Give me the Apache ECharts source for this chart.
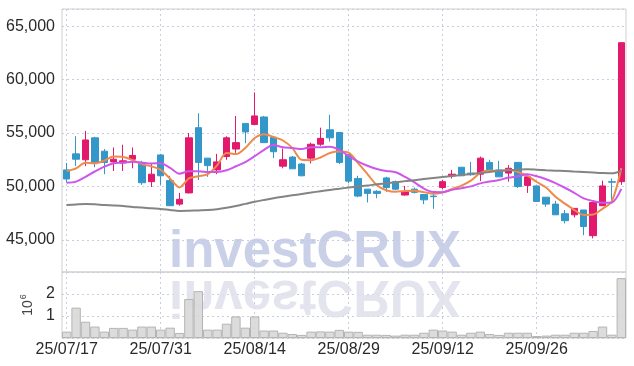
<!DOCTYPE html>
<html><head><meta charset="utf-8">
<script src="https://cdn.jsdelivr.net/npm/echarts@6/dist/echarts.min.js"></script>
<style>html,body{margin:0;padding:0;background:#fff}#c{width:634px;height:366px}</style>
</head><body><div id="c"></div>
<script>
const dates = ['25/07/17','25/07/18','25/07/21','25/07/22','25/07/23','25/07/24','25/07/25','25/07/28','25/07/29','25/07/30',
 '25/07/31','25/08/01','25/08/04','25/08/05','25/08/06','25/08/07','25/08/08','25/08/11','25/08/12','25/08/13',
 '25/08/14','25/08/18','25/08/19','25/08/20','25/08/21','25/08/22','25/08/25','25/08/26','25/08/27','25/08/28',
 '25/08/29','25/09/01','25/09/02','25/09/03','25/09/04','25/09/05','25/09/08','25/09/09','25/09/10','25/09/11',
 '25/09/12','25/09/15','25/09/16','25/09/17','25/09/18','25/09/19','25/09/22','25/09/23','25/09/24','25/09/25',
 '25/09/26','25/09/29','25/09/30','25/10/01','25/10/02','25/10/10','25/10/13','25/10/14','25/10/15','25/10/16'];
const openP  = [51550,53050,52500,54550,53300,52300,52200,52550,52250,50450,52950,50550,48350,49400,55500,52650,51550,52800,53500,55900,
 55800,56500,54600,51900,52750,52100,52650,53950,55300,55050,53000,50750,49750,49550,50800,50450,49200,49750,49250,49100,
 49900,51000,51800,51250,51150,52250,51550,51250,52250,50100,50050,49000,48350,47450,47350,47800,45400,48200,50450,50450];
const closeP = [50700,52550,54350,52250,52250,52550,52400,52900,50350,51150,51000,48200,48800,54550,52250,51950,52300,54550,54100,55100,
 56600,54100,53250,52500,51650,51000,53950,54500,54550,52250,50500,49100,49350,49350,49900,49750,49500,49450,48750,49050,
 50450,51150,51000,51100,52650,51550,50900,51700,50000,50900,48600,48350,47350,46800,47950,46250,48500,50050,50400,63450];
const lowP   = [50350,51900,51900,51800,51150,51450,51450,51700,50150,49950,50150,48200,48200,49350,50600,50900,51150,52500,53150,54050,
 55800,54100,52650,51700,51650,50950,52150,53800,54200,52100,50300,49000,48500,48900,49500,49650,49150,49350,48350,47900,
 49750,50750,51000,51000,50500,51350,50900,50450,49850,49400,48600,48100,47350,46550,47100,45450,45150,48200,48750,50150];
const highP  = [52200,54700,55200,54650,53500,53650,53900,53650,52400,52100,53050,51000,49400,55000,56850,52650,53050,54700,56600,55900,
 58800,56600,54650,53550,52850,52200,54100,55500,56700,55050,53000,51000,49750,49650,50900,50550,50050,49900,49300,49300,
 50600,51550,51800,52300,52800,52500,52400,52000,52300,51150,50050,49000,48650,47800,47950,47800,48550,50550,50750,63450];
const volume = [290000,1380000,740000,520000,290000,460000,460000,380000,520000,520000,380000,470000,230000,1770000,2130000,380000,380000,650000,980000,470000,
 980000,340000,340000,240000,180000,140000,290000,300000,290000,370000,290000,280000,150000,150000,140000,110000,150000,150000,240000,380000,
 340000,290000,150000,240000,290000,180000,140000,240000,240000,240000,90000,110000,150000,150000,240000,240000,320000,520000,150000,2720000];
const ma5  = [51450,51700,52230,52170,52420,52800,52760,52470,52090,51880,51560,50730,49910,50750,50960,51150,51970,53120,53030,53600,
 54530,54890,54630,54300,53610,52490,52460,52710,53130,53260,53160,52190,51160,50120,49650,49500,49580,49600,49470,49310,
 49440,49770,50080,50550,51270,51490,51440,51570,51360,51010,50420,49910,49040,48400,47800,47340,47370,47910,48630,51730];
const ma10 = [50350,50450,50900,51400,51850,52170,52230,52320,52230,52150,52180,51740,51190,51420,51420,51360,51350,51510,51890,52280,
 52840,53430,53870,53660,53600,53510,53680,53670,53720,53430,52830,52330,51940,51630,51450,51330,50890,50380,49800,49480,
 49470,49680,49840,50010,50290,50460,50600,50830,50950,51140,50950,50670,50310,49880,49410,48880,48640,48470,48510,49770];
const maLong = [48270,48320,48360,48330,48270,48230,48180,48090,48040,47960,47900,47800,47710,47730,47760,47790,47870,48000,48170,48370,
 48570,48740,48900,49040,49170,49300,49430,49560,49680,49790,49900,50000,50090,50210,50300,50400,50500,50590,50700,50800,
 50890,50980,51080,51170,51260,51360,51450,51510,51570,51610,51570,51520,51480,51450,51400,51360,51310,51260,51230,51450];

const RED = '#e2196c', BLUE = '#3497c9';
const FONT = '"Liberation Sans Narrow", "Liberation Sans", sans-serif';
const candle = dates.map((d, i) => [openP[i], closeP[i], lowP[i], highP[i]]);
const fmt = v => String(v).replace(/\B(?=(\d{3})+(?!\d))/g, ',');
const dotted = { color: '#c9cde0', type: [2, 3], width: 1 };

const chart = echarts.init(document.getElementById('c'), null, { renderer: 'canvas' });
chart.setOption({
  animation: false,
  backgroundColor: '#fff',
  grid: [
    { left: 62, right: 8, top: 9, height: 263, show: true, borderColor: '#cfcfcf', borderWidth: 1 },
    { left: 62, right: 8, top: 272, height: 66, show: true, borderColor: '#cfcfcf', borderWidth: 1 }
  ],
  xAxis: [
    { type: 'category', gridIndex: 0, data: dates, boundaryGap: true,
      axisLine: { show: false }, axisTick: { show: false }, axisLabel: { show: false },
      splitLine: { show: true, interval: 9, alignWithLabel: true, lineStyle: dotted } },
    { type: 'category', gridIndex: 1, data: dates, boundaryGap: true,
      axisLine: { show: false }, axisTick: { show: false },
      axisLabel: { show: true, interval: 9, margin: 4, fontFamily: FONT, fontSize: 16, color: '#2a2a2a' },
      splitLine: { show: true, interval: 9, alignWithLabel: true, lineStyle: dotted } }
  ],
  yAxis: [
    { type: 'value', gridIndex: 0, min: 42000, max: 66600, splitNumber: 5, scale: true,
      axisLine: { show: false }, axisTick: { show: false },
      axisLabel: { margin: 7, fontFamily: FONT, fontSize: 16, color: '#2a2a2a', formatter: fmt, showMinLabel: false, showMaxLabel: false },
      splitLine: { show: true, lineStyle: dotted } },
    { type: 'value', gridIndex: 1, min: 0, max: 3000000, interval: 1000000,
      axisLine: { show: false }, axisTick: { show: false },
      axisLabel: { margin: 7, fontFamily: FONT, fontSize: 16, color: '#2a2a2a', formatter: v => String(v / 1000000), showMinLabel: false, showMaxLabel: false },
      splitLine: { show: true, lineStyle: dotted },
      name: '{b|10}{s|6}', nameLocation: 'middle', nameGap: 21, nameRotate: 90,
      nameTextStyle: { rich: { b: { fontFamily: 'Liberation Sans', fontSize: 14, color: '#444' },
                               s: { fontFamily: 'Liberation Sans', fontSize: 9, color: '#444', padding: [0, 0, 9, 1] } } } }
  ],
  graphic: [
    { type: 'text', z: 1, silent: true,
      style: { text: 'investCRUX', x: 315, y: 253, fill: 'rgba(192,200,228,0.85)', font: 'bold 51px "Liberation Sans", sans-serif', textAlign: 'center', textVerticalAlign: 'middle' } },
    { type: 'text', z: 1, silent: true, scaleY: -1, originX: 315, originY: 274,
      style: { text: 'investCRUX', x: 315, y: 253, fill: 'rgba(222,223,234,0.85)', font: 'bold 51px "Liberation Sans", sans-serif', textAlign: 'center', textVerticalAlign: 'middle' } }
  ],
  series: [
    { type: 'candlestick', name: 'price', xAxisIndex: 0, yAxisIndex: 0, data: candle, barWidth: 7, z: 3,
      itemStyle: { color: RED, color0: BLUE, borderColor: RED, borderColor0: BLUE, borderWidth: 1 } },
    { type: 'line', name: 'MA5', xAxisIndex: 0, yAxisIndex: 0, data: ma5, smooth: 0.3, showSymbol: false, z: 4,
      lineStyle: { color: '#ef8a4a', width: 2 } },
    { type: 'line', name: 'MA10', xAxisIndex: 0, yAxisIndex: 0, data: ma10, smooth: 0.3, showSymbol: false, z: 4,
      lineStyle: { color: '#cc57ea', width: 2 } },
    { type: 'line', name: 'MA60', xAxisIndex: 0, yAxisIndex: 0, data: maLong, smooth: 0.3, showSymbol: false, z: 4,
      lineStyle: { color: '#848484', width: 2 } },
    { type: 'bar', name: 'volume', xAxisIndex: 1, yAxisIndex: 1, data: volume, barCategoryGap: '0%', z: 3,
      itemStyle: { color: 'rgba(216,216,216,0.9)', borderColor: '#b4b4b4', borderWidth: 1 } }
  ]
});
</script></body></html>
